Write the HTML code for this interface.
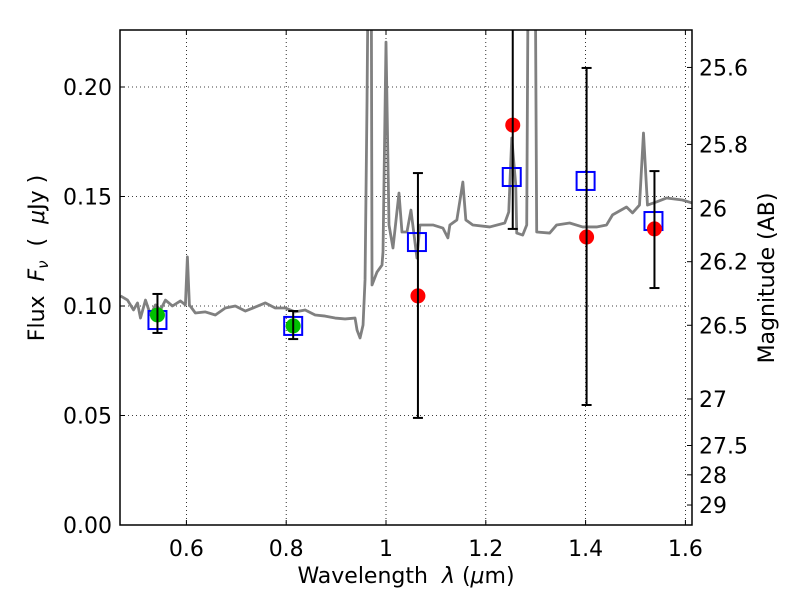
<!DOCTYPE html>
<html><head><meta charset="utf-8"><style>
body{margin:0;background:#fff}
svg text{font-family:"DejaVu Sans","Liberation Sans",sans-serif;fill:#000}
</style></head><body>
<svg id="chart" width="800" height="600" viewBox="0 0 800 600" xmlns="http://www.w3.org/2000/svg">
<rect width="800" height="600" fill="#fff"/>
<g id="grid"></g>
<g id="plot"></g>
<g id="axes"></g>
</svg>
<script>
const specLam=[.468,.482,.494,.502,.508,.518,.528,.538,.548,.558,.572,.588,.598,.602,.606,.618,.638,.658,.678,.698,.718,.738,.758,.778,.798,.818,.838,.858,.878,.898,.918,.938,.942,.948,.954,.958,.962,.966,.970,.972,.982,.992,.994,1.000,1.006,1.014,1.026,1.032,1.042,1.050,1.062,1.068,1.094,1.114,1.124,1.128,1.142,1.154,1.160,1.174,1.208,1.238,1.246,1.252,1.260,1.262,1.274,1.282,1.286,1.298,1.302,1.328,1.342,1.368,1.394,1.422,1.442,1.454,1.482,1.494,1.508,1.516,1.524,1.542,1.562,1.594,1.614];
const specFlux=[.1046,.1027,.0982,.1014,.0945,.1027,.0959,.1005,.0982,.1027,.1000,.1023,.1005,.1224,.1005,.0968,.0973,.0959,.0991,.1000,.0977,.0995,.1014,.0991,.0991,.0973,.0982,.0959,.0954,.0945,.0941,.0945,.0890,.0854,.0913,.1119,.194,.30,.30,.1096,.1155,.1187,.1247,.2205,.137,.1265,.1516,.1338,.1338,.1438,.1219,.137,.137,.1356,.1311,.137,.1393,.1566,.1393,.137,.1361,.1379,.1429,.1767,.1553,.1333,.1324,.137,.30,.30,.1338,.1333,.137,.1379,.1361,.1361,.137,.1416,.1452,.1425,.1461,.179,.1461,.1475,.1493,.1484,.147];
const redLam=[1.064,1.254,1.402,1.538];
const redFlux=[.1046,.1826,.1315,.1352];
const redHi=[.1607,.30,.2087,.1616];
const redLo=[.0489,.1352,.0548,.1082];
const greenLam=[.542,.814];
const greenFlux=[.0959,.0909];
const greenHi=[.1055,.0977];
const greenLo=[.0877,.0849];
const sqLam=[.542,.814,1.062,1.252,1.400,1.536];
const sqFlux=[.0936,.0909,.1292,.1589,.1571,.1388];
const xTicks=[0.6,0.8,1.0,1.2,1.4,1.6];
const xTickLabels=["0.6","0.8","1","1.2","1.4","1.6"];
const yTicks=[0,0.05,0.10,0.15,0.20];
const yTickLabels=["0.00","0.05","0.10","0.15","0.20"];
const magTicks=[25.6,25.8,26,26.2,26.5,27,27.5,28,29];
const magTickLabels=["25.6","25.8","26","26.2","26.5","27","27.5","28","29"];

const L=120,R=692,T=30,B=525;
const X=l=>386+(l-1)*499;
const Y=f=>525-f*2190;
const NS="http://www.w3.org/2000/svg";
function mk(tag,attrs,parent){const e=document.createElementNS(NS,tag);for(const k in attrs)e.setAttribute(k,attrs[k]);parent.appendChild(e);return e;}
const grid=document.getElementById('grid'),plot=document.getElementById('plot'),axes=document.getElementById('axes');
const cp=mk('clipPath',{id:'cp'},document.getElementById('chart'));
mk('rect',{x:L,y:T,width:R-L,height:B-T},cp);
plot.setAttribute('clip-path','url(#cp)');

xTicks.forEach(v=>{const g=mk('line',{x1:X(v),x2:X(v),y1:T,y2:B,stroke:'#000','stroke-width':0.8,'stroke-dasharray':'1,3'},grid);

});
yTicks.forEach(v=>{const g=mk('line',{x1:L,x2:R,y1:Y(v),y2:Y(v),stroke:'#000','stroke-width':0.8,'stroke-dasharray':'1,3'},grid);

});

const sp=mk('polyline',{points:specLam.map((l,i)=>X(l)+','+Y(specFlux[i])).join(' '),fill:'none',stroke:'#808080','stroke-width':2.8,'stroke-linejoin':'round'},plot);



sqLam.forEach((l,i)=>{const s=mk('rect',{x:X(l)-9,y:Y(sqFlux[i])-9,width:18,height:18,fill:'none',stroke:'#0000ff','stroke-width':2},plot);

});

function errbars(lams,fl,hi,lo,color,name){
lams.forEach((l,i)=>{const x=X(l);
const c=mk('circle',{cx:x,cy:Y(fl[i]),r:7.5,fill:color},plot);


const g=mk('g',{stroke:'#000','stroke-width':2},plot);


mk('line',{x1:x,x2:x,y1:Y(hi[i]),y2:Y(lo[i])},g);
mk('line',{x1:x-5,x2:x+5,y1:Y(hi[i]),y2:Y(hi[i])},g);
mk('line',{x1:x-5,x2:x+5,y1:Y(lo[i]),y2:Y(lo[i])},g);
});}
errbars(greenLam,greenFlux,greenHi,greenLo,'#00c000','observed-green-point');
errbars(redLam,redFlux,redHi,redLo,'#ff0000','observed-red-point');

const fr=mk('rect',{x:L,y:T,width:R-L,height:B-T,fill:'none',stroke:'#000','stroke-width':1.5},axes);


xTicks.forEach((v,i)=>{mk('line',{x1:X(v),x2:X(v),y1:B,y2:B-5,stroke:'#000'},axes);mk('line',{x1:X(v),x2:X(v),y1:T,y2:T+5,stroke:'#000'},axes);
const t=mk('text',{x:X(v),y:B+31,'font-size':22,'text-anchor':'middle'},axes);t.textContent=xTickLabels[i];

});
yTicks.forEach((v,i)=>{mk('line',{x1:L,x2:L+5,y1:Y(v),y2:Y(v),stroke:'#000'},axes);
const t=mk('text',{x:L-8,y:Y(v)+8,'font-size':22,'text-anchor':'end'},axes);t.textContent=yTickLabels[i];

});
magTicks.forEach((m,i)=>{const y=Y(Math.pow(10,(23.9-m)/2.5));mk('line',{x1:R,x2:R-5,y1:y,y2:y,stroke:'#000'},axes);
const t=mk('text',{x:R+7,y:y+8,'font-size':22},axes);t.textContent=magTickLabels[i];

});
</script>
<svg style="position:absolute;left:0;top:0" width="800" height="600">
<text x="406" y="583" font-size="22" text-anchor="middle" style="font-family:'DejaVu Sans',sans-serif">Wavelength&#160;&#160;<tspan font-style="italic">λ</tspan>&#160;(<tspan font-style="italic">μ</tspan>m)</text>
<text transform="translate(44,258) rotate(-90)" font-size="22" text-anchor="middle" style="font-family:'DejaVu Sans',sans-serif">Flux&#160;&#160;<tspan font-style="italic">F</tspan><tspan font-style="italic" font-size="15" dy="4">ν</tspan><tspan dy="-4">&#160;&#160;(&#160;&#160;</tspan><tspan font-style="italic">μ</tspan>Jy&#160;)</text>
<text transform="translate(774,278) rotate(-90)" font-size="22" text-anchor="middle" style="font-family:'DejaVu Sans',sans-serif">Magnitude (AB)</text>
</svg>
</body></html>
